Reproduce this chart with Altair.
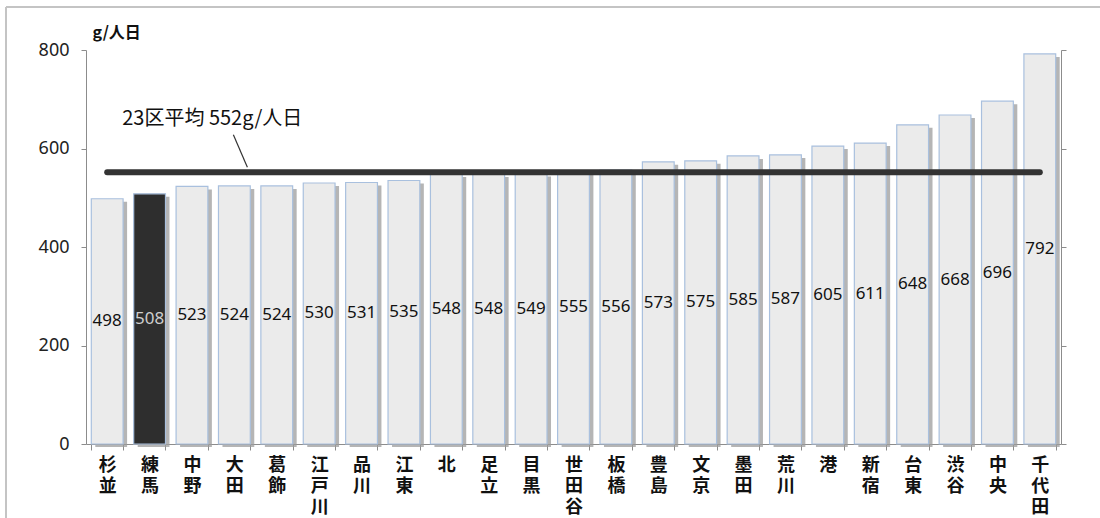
import altair as alt
import pandas as pd

# Daily waste per person in Tokyo's 23 wards (g/person/day)
districts = ["杉並", "練馬", "中野", "大田", "葛飾", "江戸川", "品川", "江東", "北", "足立",
             "目黒", "世田谷", "板橋", "豊島", "文京", "墨田", "荒川", "港", "新宿", "台東",
             "渋谷", "中央", "千代田"]
values = [498, 508, 523, 524, 524, 530, 531, 535, 548, 548,
          549, 555, 556, 573, 575, 585, 587, 605, 611, 648,
          668, 696, 792]
highlight = "練馬"
average = 552
y_ticks = [0, 200, 400, 600, 800]

df = pd.DataFrame({"district": districts, "value": values})
df["hl"] = df["district"] == highlight

W, H = 975, 394
PAD_L, PAD_T, PAD_R, PAD_B = 86, 50, 39, 74

JP = "Noto Sans CJK JP"
LATIN = "Noto Sans"

x_scale = alt.Scale(domain=districts, paddingInner=0.25, paddingOuter=0.125)

x_enc = alt.X(
    "district:N",
    sort=districts,
    scale=x_scale,
    axis=alt.Axis(
        title=None,
        tickBand="extent",
        tickSize=6,
        tickColor="#8c8c8c",
        domainColor="#8c8c8c",
        labelAngle=0,
        labelExpr="split(datum.label, '')",
        labelFont=JP,
        labelFontWeight="bold",
        labelFontSize=18,
        labelLineHeight=21,
        labelBaseline="top",
        labelPadding=6,
        labelColor="#111111",
        labelOverlap=False,
        grid=False,
    ),
)

y_scale = alt.Scale(domain=[0, 800], nice=False)

base = alt.Chart(df)

# soft shadow to the right of each bar; also carries the unlabeled right axis
shadow = base.mark_bar(color="#9c9c9c", opacity=0.75, xOffset=4, yOffset=3).encode(
    x=x_enc,
    y=alt.Y(
        "value:Q",
        scale=y_scale,
        axis=alt.Axis(
            orient="right", title=None, labels=False, values=y_ticks,
            tickSize=5, tickColor="#8c8c8c", domainColor="#8c8c8c", grid=False,
        ),
    ),
)

bars = base.mark_bar(stroke="#a9c0de", strokeWidth=1.2).encode(
    x=x_enc,
    y=alt.Y(
        "value:Q",
        scale=y_scale,
        axis=alt.Axis(
            title="g/人日",
            titleAngle=0,
            titleAlign="left",
            titleBaseline="bottom",
            titleX=6,
            titleY=-10,
            titleFont=JP,
            titleFontWeight="bold",
            titleFontSize=16,
            titleColor="#111111",
            values=y_ticks,
            tickSize=5,
            tickColor="#8c8c8c",
            domainColor="#8c8c8c",
            gridColor="#e2e2e2",
            labelFont=LATIN,
            labelFontSize=18,
            labelColor="#222222",
            labelPadding=12,
        ),
    ),
    fill=alt.condition("datum.hl", alt.value("#2e2e2e"), alt.value("#ebebeb")),
)

labels = base.mark_text(font=LATIN, fontSize=17, baseline="middle").transform_calculate(
    mid="datum.value / 2"
).encode(
    x=alt.X("district:N", sort=districts, scale=x_scale),
    y=alt.Y("mid:Q", scale=y_scale, axis=None),
    text=alt.Text("value:Q"),
    color=alt.condition("datum.hl", alt.value("#cfcfcf"), alt.value("#111111")),
)

avg_df = pd.DataFrame({"a": [districts[0]], "b": [districts[-1]], "v": [average],
                       "label": [f"23区平均 {average}g/人日"]})
avg_base = alt.Chart(avg_df)

avg_line = avg_base.mark_rule(color="#333333", strokeWidth=6, strokeCap="round").encode(
    x=alt.X("a:N", sort=districts, scale=x_scale),
    x2="b:N",
    y=alt.Y("v:Q", scale=y_scale, axis=None),
)

avg_text = avg_base.mark_text(font=JP, fontSize=20, align="left", baseline="middle",
                              dx=15, dy=-53, color="#111111").encode(
    x=alt.X("a:N", sort=districts, scale=x_scale),
    y=alt.Y("v:Q", scale=y_scale, axis=None),
    text="label:N",
)

leader_df = pd.DataFrame({"d": [districts[3]], "y1": [628], "y2": [562]})
leader = alt.Chart(leader_df).mark_rule(color="#333333", strokeWidth=1.2, xOffset=-1, x2Offset=13).encode(
    x=alt.X("d:N", sort=districts, scale=x_scale),
    x2="d:N",
    y=alt.Y("y1:Q", scale=y_scale, axis=None),
    y2="y2:Q",
)

# outer frame (left and top edges)
frame_left = alt.Chart(avg_df).mark_rule(color="#c4c4c4", strokeWidth=2).encode(
    x=alt.value(-80), y=alt.value(-43), y2=alt.value(H + PAD_B)
)
frame_top = alt.Chart(avg_df).mark_rule(color="#c4c4c4", strokeWidth=2).encode(
    x=alt.value(-80), x2=alt.value(W + PAD_R), y=alt.value(-43)
)

chart = alt.layer(
    frame_left, frame_top, shadow, bars, labels, avg_line, leader, avg_text
).resolve_axis(y="independent").properties(
    width=W,
    height=H,
    autosize=alt.AutoSizeParams(type="none"),
    padding={"left": PAD_L, "top": PAD_T, "right": PAD_R, "bottom": PAD_B},
    background="white",
).configure_view(stroke=None)

chart.save("out.html", embed_options={"renderer": "svg", "actions": False})
